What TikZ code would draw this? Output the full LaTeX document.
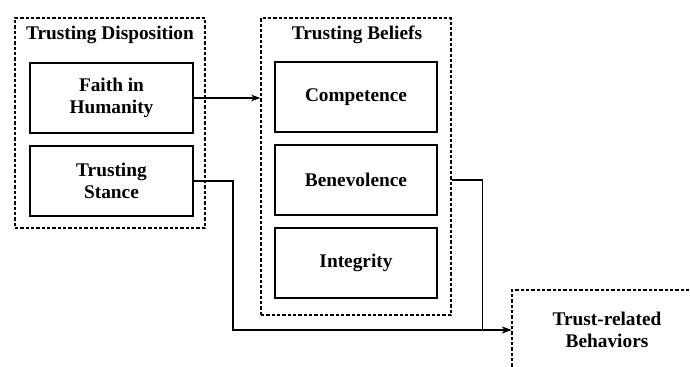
\documentclass[tikz,border=0pt]{standalone}
\usepackage{fontspec}
\setmainfont{Liberation Serif}
\usetikzlibrary{positioning,arrows.meta}

\begin{document}
\begin{tikzpicture}[x=0.75pt,y=-0.75pt,>={Stealth[length=7pt,width=5pt]},
    label/.style={font=\bfseries\fontsize{14.5}{16}\selectfont,align=center},
    factor/.style={label,draw,line width=1.3pt,minimum width=122pt,minimum height=52.5pt},
    group/.style={draw,dash pattern=on 2.5pt off 1.5pt,line width=0.9pt,minimum width=142.5pt},
    link/.style={->,line width=1.2pt}]

	\useasboundingbox (0,0) rectangle (690,367);
	\clip (0,0) rectangle (690,367);

	% dashed groups
	\node[group,minimum height=157.5pt] (disp) at (110,123) {};
	\node[group,minimum height=222.75pt] (beliefs) at (356,166.5) {};
	\node[group,label,minimum height=60pt] (behav) at (607,330) {Trust-related\\Behaviors};

	\node[label] (dispt) at (110,35) {Trusting Disposition};
	\node[label] (belieft) at (357,35) {Trusting Beliefs};

	% factors
	\node[factor] (faith) at (111.5,98) {Faith in\\Humanity};
	\node[factor] (stance) at (111.5,181) {Trusting\\Stance};
	\node[factor] (comp) at (356,97) {Competence};
	\node[factor] (bene) at (356,180) {Benevolence};
	\node[factor] (integ) at (356,263) {Integrity};

	\draw[link] (faith.east) -- (faith.east -| beliefs.west);
	\draw[link] (stance.east) -- ++(39,0) |- (behav.west);
	\draw[link] (bene.east -| beliefs.east) -- ++(31,0) |- (behav.west);

\end{tikzpicture}
\end{document}
